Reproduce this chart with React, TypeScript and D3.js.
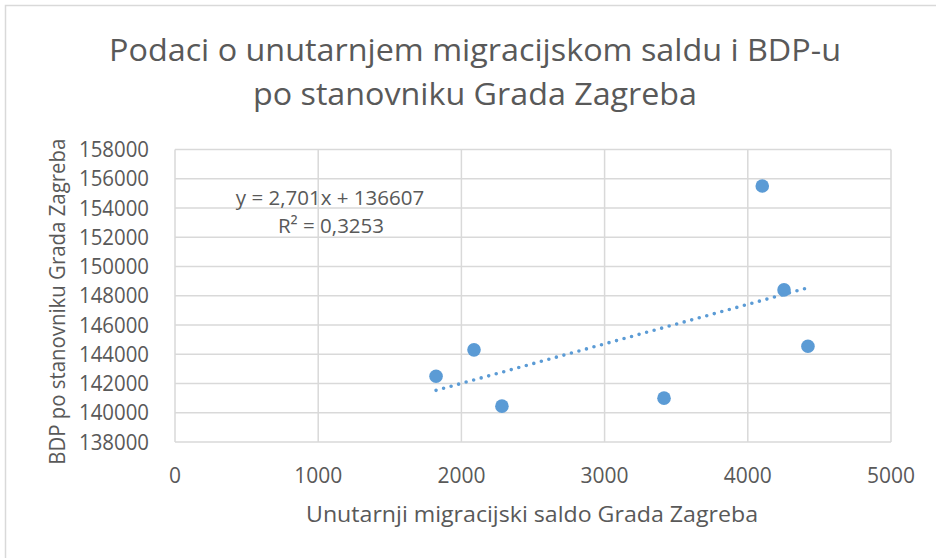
import { scaleLinear, range } from "d3";
import { useMemo } from "react";

// values
const saldo = [1823, 2088, 2283, 3415, 4101, 4253, 4420];
const bdp = [142500, 144300, 140450, 141000, 155500, 148400, 144550];

const xTicks = [0, 1000, 2000, 3000, 4000, 5000];
const yTicks = range(138000, 158001, 2000);

// trendline as printed on the chart
const trendSlope = 2.701;
const trendIntercept = 136607;
const trendLabel = "y = 2,701x + 136607";
const r2Label = "R² = 0,3253";

const titleLines = [
  "Podaci o unutarnjem migracijskom saldu i BDP-u",
  "po stanovniku Grada Zagreba",
];
const xTitle = "Unutarnji migracijski saldo Grada Zagreba";
const yTitle = "BDP po stanovniku Grada Zagreba";

const width = 936;
const height = 558;
const plot = { left: 175, right: 891, top: 149.5, bottom: 442 };

const blue = "#5B9BD5";
const textColor = "#595959";
const gridColor = "#d9d9d9";
const font = "'Open Sans', 'Noto Sans', sans-serif";

const Scatter = () => {
  const xScale = useMemo(
    () => scaleLinear().domain([0, 5000]).range([plot.left, plot.right]),
    []
  );
  const yScale = useMemo(
    () => scaleLinear().domain([138000, 158000]).range([plot.bottom, plot.top]),
    []
  );

  const xMin = Math.min(...saldo);
  const xMax = Math.max(...saldo);

  return (
    <svg
      width={width}
      height={height}
      style={{ position: "absolute", left: 0, top: 0 }}
      fontFamily={font}
    >
      <rect x={0} y={0} width={width} height={height} fill="white" />
      <rect
        x={5.5}
        y={5.5}
        width={width + 10}
        height={height + 10}
        fill="white"
        stroke={gridColor}
        strokeWidth={1.5}
      />

      {/* title */}
      <text
        x={475}
        y={61}
        textAnchor="middle"
        fontSize={31}
        fill={textColor}
        textLength={732}
        lengthAdjust="spacingAndGlyphs"
      >
        {titleLines[0]}
      </text>
      <text
        x={475}
        y={105}
        textAnchor="middle"
        fontSize={31}
        fill={textColor}
        textLength={444}
        lengthAdjust="spacingAndGlyphs"
      >
        {titleLines[1]}
      </text>

      {/* gridlines */}
      {yTicks.map((t) => (
        <line
          key={"gy" + t}
          x1={plot.left}
          x2={plot.right}
          y1={yScale(t)}
          y2={yScale(t)}
          stroke={gridColor}
          strokeWidth={1.5}
        />
      ))}
      {xTicks.map((t) => (
        <line
          key={"gx" + t}
          x1={xScale(t)}
          x2={xScale(t)}
          y1={plot.top}
          y2={plot.bottom}
          stroke={gridColor}
          strokeWidth={1.5}
        />
      ))}

      {/* tick labels */}
      {yTicks.map((t) => (
        <text
          key={"ly" + t}
          x={149}
          y={yScale(t) + 7.5}
          textAnchor="end"
          fontSize={21}
          fill={textColor}
          textLength={70}
          lengthAdjust="spacingAndGlyphs"
        >
          {t}
        </text>
      ))}
      {xTicks.map((t) => (
        <text
          key={"lx" + t}
          x={xScale(t)}
          y={483}
          textAnchor="middle"
          fontSize={21}
          fill={textColor}
        >
          {t}
        </text>
      ))}

      {/* axis titles */}
      <text
        x={532}
        y={522}
        textAnchor="middle"
        fontSize={21}
        fill={textColor}
        textLength={452}
        lengthAdjust="spacingAndGlyphs"
      >
        {xTitle}
      </text>
      <text
        transform={`translate(65, ${(plot.top + plot.bottom) / 2 + 6}) rotate(-90)`}
        textAnchor="middle"
        fontSize={21}
        fill={textColor}
        textLength={326}
        lengthAdjust="spacingAndGlyphs"
      >
        {yTitle}
      </text>

      {/* points */}
      {saldo.map((x, i) => (
        <circle
          key={i}
          cx={xScale(x)}
          cy={yScale(bdp[i])}
          r={6.8}
          fill={blue}
        />
      ))}

      {/* dotted linear trendline */}
      <line
        x1={xScale(xMin)}
        y1={yScale(trendSlope * xMin + trendIntercept)}
        x2={xScale(xMax)}
        y2={yScale(trendSlope * xMax + trendIntercept)}
        stroke={blue}
        strokeWidth={3.6}
        strokeLinecap="round"
        strokeDasharray="0 7.8"
      />

      {/* equation */}
      <text x={330} y={205} textAnchor="middle" fontSize={20.5} fill={textColor}>
        {trendLabel}
      </text>
      <text x={331} y={233} textAnchor="middle" fontSize={20.5} fill={textColor}>
        {r2Label}
      </text>
    </svg>
  );
};

export default function App() {
  return <Scatter />;
}
